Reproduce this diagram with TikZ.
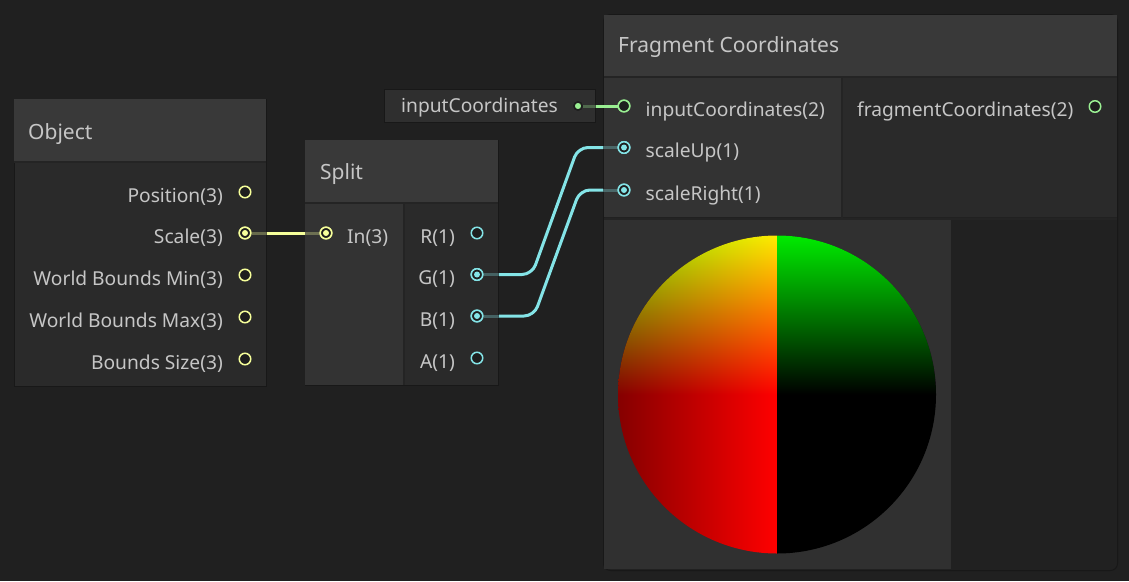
\documentclass[tikz,border=0pt]{standalone}
\usepackage{fontspec}
\setmainfont{Noto Sans}
\definecolor{bg}{RGB}{32,32,32}
\definecolor{hdrc}{RGB}{57,57,57}
\definecolor{bodyd}{RGB}{42,42,42}
\definecolor{bodyl}{RGB}{51,51,51}
\definecolor{prevc}{RGB}{48,48,48}
\definecolor{fragbase}{RGB}{33,33,33}
\definecolor{inpc}{RGB}{47,47,47}
\definecolor{edgec}{RGB}{24,24,24}
\definecolor{sepc}{RGB}{36,36,36}
\definecolor{txt}{RGB}{198,198,198}
\definecolor{v3}{RGB}{246,255,154}
\definecolor{v1}{RGB}{132,228,231}
\definecolor{v2}{RGB}{154,239,146}
\definecolor{portbg}{RGB}{30,30,30}
\definecolor{dkred}{rgb}{0.52,0,0}
\definecolor{fullred}{rgb}{1,0,0}
\definecolor{fullgreen}{rgb}{0,0.93,0}
\definecolor{midgreen}{rgb}{0,0.66,0}
\tikzset{
  box/.style={draw=edgec, line width=1pt, inner sep=0pt, anchor=north west},
  lbl/.style={text=txt, font=\fontsize{19.2}{23}\selectfont, inner sep=0pt},
  hdr/.style={text=txt, font=\fontsize{21}{25}\selectfont, inner sep=0pt, anchor=base west},
  port/.style={circle, draw=#1, line width=1.5pt, fill=portbg, minimum size=11.5pt, inner sep=0pt},
  cport/.style={port=#1, path picture={\fill[#1] (path picture bounding box.center) circle[radius=3pt];}},
  propdot/.style={circle, fill=v2, draw=portbg, line width=1.5pt, minimum size=8pt, inner sep=0pt},
  wire/.style={line width=3pt, draw=#1},
  stub/.style={line width=3pt, draw=#1, draw opacity=0.3},
  sepline/.style={line width=2pt, draw=sepc},
}
\begin{document}
\begin{tikzpicture}[x=1pt,y=-1pt]
\useasboundingbox (0,0) rectangle (1129,581);
\fill[bg] (0,0) rectangle (1129,581);

% ---------- Object node ----------
\node[box, fill=bodyd, minimum width=252, minimum height=287] (obj) at (14,99) {};
\fill[hdrc] (14,99) rectangle (266,161);
\draw[sepline] (14,162) -- (266,162);
\node[hdr] (objt) at (28,139) {Object};

% ---------- Split node ----------
\node[box, fill=bodyd, minimum width=193, minimum height=245] (split) at (305,140) {};
\fill[hdrc] (305,140) rectangle (498,202);
\fill[bodyl] (305,203) rectangle (404,385);
\draw[sepline] (305,203) -- (498,203);
\draw[sepline] (404,203) -- (404,385);
\node[hdr] (splitt) at (320,179) {Split};

% ---------- inputCoordinates property node ----------
\node[box, fill=inpc, minimum width=211, minimum height=33] (inp) at (384,89) {};
\node[lbl, anchor=base west] (inpt) at (401,112.5) {inputCoordinates};

% ---------- Fragment Coordinates node ----------
\node[box, fill=fragbase, minimum width=514, minimum height=556, rounded corners=7] (frag) at (603,14) {};
\fill[hdrc] (603.5,14.5) rectangle (1116.5,76);
\fill[bodyl] (603.5,78) rectangle (841,217);
\fill[bodyd] (843,78) rectangle (1116.5,217);
\draw[sepline] (603.5,77) -- (1116.5,77);
\draw[sepline] (603.5,218.5) -- (1116.5,218.5);
\draw[sepline] (842,77) -- (842,218);
\fill[prevc] (603.5,220) rectangle (951,569);
\node[hdr] (fragt) at (618,52.5) {Fragment Coordinates};

% preview
\begin{scope}
  \clip (777,394.5) circle[radius=159];
  \shade[left color=dkred, right color=fullred] (617,234) rectangle (777,556);
  \fill[black] (777,234) rectangle (938,556);
  \begin{scope}[blend mode=lighten]
    \shade[top color=fullgreen, middle color=midgreen, bottom color=black] (617,234) rectangle (938,394.5);
  \end{scope}
\end{scope}

% ---------- ports ----------
\node[port=v3]  (o-pos)  at (245,192) {};
\node[cport=v3] (o-scl)  at (245,233) {};
\node[port=v3]  (o-wmin) at (245,275) {};
\node[port=v3]  (o-wmax) at (245,317) {};
\node[port=v3]  (o-bsz)  at (245,359) {};

\node[cport=v3] (s-in) at (326,233) {};
\node[port=v1]  (s-r)  at (477,233) {};
\node[cport=v1] (s-g)  at (477,274.5) {};
\node[cport=v1] (s-b)  at (477,316) {};
\node[port=v1]  (s-a)  at (477,358) {};

\node[propdot] (inp-o) at (578,106) {};

\node[port=v2]  (f-in)  at (624,106) {};
\node[cport=v1] (f-up)  at (624,147.5) {};
\node[cport=v1] (f-rt)  at (624,190) {};
\node[port=v2]  (f-out) at (1095,106.5) {};

% ---------- wires ----------
\draw[stub=v3] (o-scl) -- (s-in);
\draw[wire=v3] (o-scl -| obj.east) -- (s-in -| split.west);

\draw[stub=v2] (inp-o) -- (inp-o -| inp.east);
\draw[wire=v2] (inp-o -| inp.east) -- (f-in.west);

\draw[stub=v1] (s-g) -- (s-g -| split.east);
\draw[wire=v1, rounded corners=10] (s-g -| split.east) -- (532,274.5) -- (578,147.5) -- (f-up -| frag.west);
\draw[stub=v1] (f-up -| frag.west) -- (f-up);

\draw[stub=v1] (s-b) -- (s-b -| split.east);
\draw[wire=v1, rounded corners=10] (s-b -| split.east) -- (534,316) -- (580,190) -- (f-rt -| frag.west);
\draw[stub=v1] (f-rt -| frag.west) -- (f-rt);

% redraw connected ports on top of wires
\node[cport=v3] at (o-scl) {};
\node[cport=v3] at (s-in) {};
\node[cport=v1] at (s-g) {};
\node[cport=v1] at (s-b) {};
\node[propdot] at (inp-o) {};
\node[port=v2]  at (f-in) {};
\node[cport=v1] at (f-up) {};
\node[cport=v1] at (f-rt) {};

% ---------- labels ----------
\node[lbl, anchor=base east] (l-pos)  at (223,202) {Position(3)};
\node[lbl, anchor=base east] (l-scl)  at (223,243) {Scale(3)};
\node[lbl, anchor=base east] (l-wmin) at (223,285) {World Bounds Min(3)};
\node[lbl, anchor=base east] (l-wmax) at (223,327) {World Bounds Max(3)};
\node[lbl, anchor=base east] (l-bsz)  at (223,369) {Bounds Size(3)};

\node[lbl, anchor=base west] (l-in) at (347,243) {In(3)};
\node[lbl, anchor=base east] (l-r)  at (455,243) {R(1)};
\node[lbl, anchor=base east] (l-g)  at (455,284.5) {G(1)};
\node[lbl, anchor=base east] (l-b)  at (455,326) {B(1)};
\node[lbl, anchor=base east] (l-a)  at (455,368) {A(1)};

\node[lbl, anchor=base west] (l-fin) at (645.5,116.5) {inputCoordinates(2)};
\node[lbl, anchor=base west] (l-fup) at (645.5,157.5) {scaleUp(1)};
\node[lbl, anchor=base west] (l-frt) at (645.5,200) {scaleRight(1)};
\node[lbl, anchor=base west] (l-fout) at (857,116.5) {fragmentCoordinates(2)};
\end{tikzpicture}
\end{document}
